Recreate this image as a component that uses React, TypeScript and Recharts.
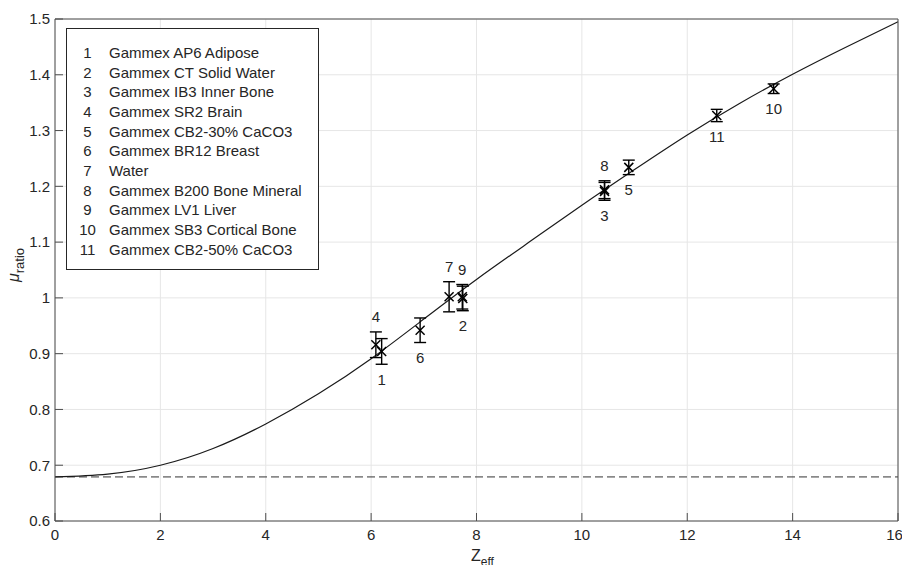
import {
  ComposedChart,
  Line,
  Scatter,
  ErrorBar,
  XAxis,
  YAxis,
  CartesianGrid,
  ReferenceLine,
  Legend,
} from 'recharts';

// fitted curve at whole Z values
const curveZ = [0, 1, 2, 3, 4, 5, 6, 7, 8, 9, 10, 11, 12, 13, 14, 15, 16];
const curveMu = [
  0.679, 0.684, 0.7, 0.73, 0.774, 0.828, 0.891, 0.962, 1.033, 1.1, 1.166, 1.23, 1.292, 1.349,
  1.401, 1.449, 1.495,
];
const baseline = 0.679;

// measured phantom inserts
const pointIds = [1, 2, 3, 4, 5, 6, 7, 8, 9, 10, 11];
const pointZ = [6.2, 7.74, 10.43, 6.09, 10.89, 6.93, 7.48, 10.43, 7.73, 13.64, 12.56];
const pointMu = [0.904, 0.999, 1.191, 0.916, 1.234, 0.942, 1.002, 1.194, 1.002, 1.375, 1.327];
const pointErr = [0.023, 0.022, 0.016, 0.023, 0.013, 0.022, 0.027, 0.016, 0.022, 0.0086, 0.011];
const labelAbove = [false, false, false, true, false, false, true, true, true, false, false];

const materials = [
  'Gammex AP6 Adipose',
  'Gammex CT Solid Water',
  'Gammex IB3 Inner Bone',
  'Gammex SR2 Brain',
  'Gammex CB2-30% CaCO3',
  'Gammex BR12 Breast',
  'Water',
  'Gammex B200 Bone Mineral',
  'Gammex LV1 Liver',
  'Gammex SB3 Cortical Bone',
  'Gammex CB2-50% CaCO3',
];

const xTicks = [0, 2, 4, 6, 8, 10, 12, 14, 16];
const yTicks = [0.6, 0.7, 0.8, 0.9, 1, 1.1, 1.2, 1.3, 1.4, 1.5];

const curveData = curveZ.map((x, i) => ({ x, y: curveMu[i] }));
const pointData = pointIds.map((id, i) => ({
  id,
  x: pointZ[i],
  y: pointMu[i],
  err: pointErr[i],
  above: labelAbove[i],
}));

const FONT = '"Liberation Sans", Arial, Helvetica, sans-serif';
const INK = '#262626';
const AXIS = '#4d4d4d';
const PX_PER_UNIT = 502 / 0.9; // plot height over y span

function CrossMark(props: any) {
  const { cx, cy, payload } = props;
  if (cx == null || cy == null) return null;
  const r = 4.5;
  const off = payload.err * PX_PER_UNIT + 15;
  const ty = payload.above ? cy - off : cy + off;
  return (
    <g>
      <line x1={cx - r} y1={cy - r} x2={cx + r} y2={cy + r} stroke="#000" strokeWidth={1.5} />
      <line x1={cx - r} y1={cy + r} x2={cx + r} y2={cy - r} stroke="#000" strokeWidth={1.5} />
      <text
        x={cx}
        y={ty}
        textAnchor="middle"
        dominantBaseline="central"
        fontSize={15}
        fill={INK}
        fontFamily={FONT}
      >
        {payload.id}
      </text>
    </g>
  );
}

function MaterialBox() {
  return (
    <div
      style={{
        width: 253,
        height: 242,
        boxSizing: 'border-box',
        border: `1px solid ${INK}`,
        background: '#fff',
        paddingTop: 14,
        fontFamily: FONT,
        fontSize: 15,
        lineHeight: '19.66px',
        color: INK,
        whiteSpace: 'nowrap',
      }}
    >
      {materials.map((name, i) => (
        <div key={name} style={{ display: 'flex' }}>
          <span style={{ width: 31, marginLeft: 5, textAlign: 'center' }}>{pointIds[i]}</span>
          <span style={{ marginLeft: 6 }}>{name}</span>
        </div>
      ))}
    </div>
  );
}

const fmt = (v: number) => String(Number(v.toFixed(1)));

export default function App() {
  return (
    <div style={{ position: 'absolute', left: 0, top: 0 }}>
      <ComposedChart
        width={902}
        height={565}
        margin={{ top: 18, right: 3, bottom: 0, left: 0 }}
        style={{ fontFamily: FONT }}
      >
        <CartesianGrid stroke="#e6e6e6" />
        <XAxis
          dataKey="x"
          type="number"
          domain={[0, 16]}
          ticks={xTicks}
          height={44}
          tickSize={-8}
          tickMargin={16}
          stroke={AXIS}
          tick={{ fill: INK, fontSize: 15 }}
          label={() => (
            <text x={471} y={561} fontFamily={FONT} fill={INK}>
              <tspan fontSize={16}>Z</tspan>
              <tspan fontSize={12} dy={5}>
                eff
              </tspan>
            </text>
          )}
        />
        <XAxis
          xAxisId="top"
          orientation="top"
          type="number"
          domain={[0, 16]}
          ticks={xTicks}
          height={1}
          tickSize={-8}
          tick={false}
          stroke={AXIS}
        />
        <YAxis
          type="number"
          domain={[0.6, 1.5]}
          ticks={yTicks}
          width={55}
          tickSize={-8}
          tickMargin={13}
          stroke={AXIS}
          tickFormatter={fmt}
          tick={{ fill: INK, fontSize: 15 }}
          label={() => (
            <text transform="translate(19,282) rotate(-90)" fontFamily={FONT} fill={INK}>
              <tspan fontSize={16} fontStyle="italic">
                μ
              </tspan>
              <tspan fontSize={13} dy={5}>
                ratio
              </tspan>
            </text>
          )}
        />
        <YAxis
          yAxisId="right"
          orientation="right"
          type="number"
          domain={[0.6, 1.5]}
          ticks={yTicks}
          width={1}
          tickSize={-8}
          tick={false}
          stroke={AXIS}
        />
        <ReferenceLine y={baseline} stroke="#333" strokeDasharray="8 4" strokeWidth={1} />
        <Line
          data={curveData}
          dataKey="y"
          type="natural"
          stroke="#1a1a1a"
          strokeWidth={1.2}
          dot={false}
          activeDot={false}
          isAnimationActive={false}
        />
        <Scatter data={pointData} dataKey="y" shape={CrossMark} isAnimationActive={false}>
          <ErrorBar dataKey="err" direction="y" width={6} stroke="#000" strokeWidth={1.4} />
        </Scatter>
        <Legend
          layout="vertical"
          align="center"
          verticalAlign="middle"
          wrapperStyle={{ left: 66, top: 28, width: 253, height: 242 }}
          content={() => <MaterialBox />}
        />
      </ComposedChart>
    </div>
  );
}
